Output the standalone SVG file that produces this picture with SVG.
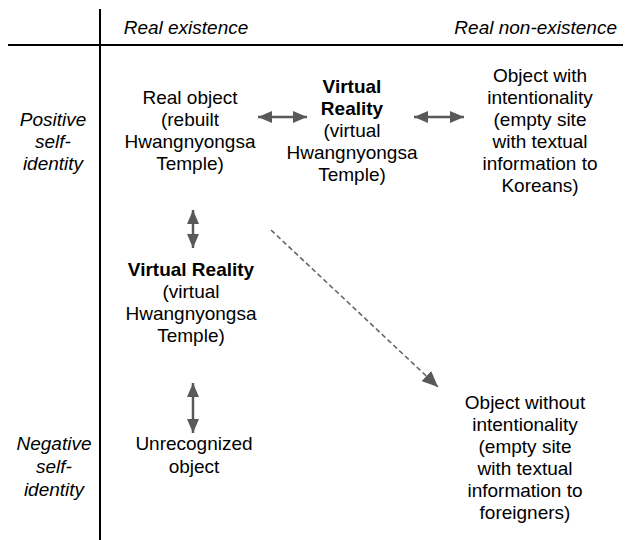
<svg xmlns="http://www.w3.org/2000/svg" width="630" height="540" viewBox="0 0 630 540">
<defs>
<style>
text{font-family:"Liberation Sans",Arial,sans-serif;font-size:19px;fill:#000;text-anchor:middle}
.i{font-style:italic}
.b{font-weight:bold}
.ax{stroke:#000;stroke-width:2;fill:none}
.ar{stroke:#595959;stroke-width:2.5;fill:none;marker-start:url(#hs);marker-end:url(#he)}
.da{stroke:#666;stroke-width:1.6;fill:none;stroke-dasharray:5 3;marker-end:url(#hd)}
</style>
<marker id="he" viewBox="0 0 14 12" refX="14" refY="6" markerWidth="14" markerHeight="12" markerUnits="userSpaceOnUse" orient="auto"><path d="M0,0L14,6L0,12z" fill="#595959"/></marker>
<marker id="hs" viewBox="0 0 14 12" refX="0" refY="6" markerWidth="14" markerHeight="12" markerUnits="userSpaceOnUse" orient="auto"><path d="M14,0L0,6L14,12z" fill="#595959"/></marker>
<marker id="hd" viewBox="0 0 16 14" refX="16" refY="7" markerWidth="16" markerHeight="14" markerUnits="userSpaceOnUse" orient="auto"><path d="M0,0L16,7L0,14z" fill="#595959"/></marker>
</defs>
<rect width="630" height="540" fill="#fff"/>
<g id="axes">
<line class="ax" x1="100" y1="9" x2="100" y2="540"/>
<line class="ax" x1="8" y1="45" x2="623" y2="45"/>
</g>
<g id="h1"><text class="i" x="186" y="34">Real existence</text></g>
<g id="h2"><text class="i" x="617" y="34" style="text-anchor:end">Real non-existence</text></g>
<g id="pos"><text class="i" x="53" y="126">Positive</text><text class="i" x="53" y="148">self-</text><text class="i" x="53" y="170">identity</text></g>
<g id="neg"><text class="i" x="54" y="450">Negative</text><text class="i" x="54" y="473">self-</text><text class="i" x="54" y="496">identity</text></g>
<g id="n1"><text x="190" y="104">Real object</text><text x="190" y="126">(rebuilt</text><text x="190" y="148">Hwangnyongsa</text><text x="190" y="170">Temple)</text></g>
<g id="n2"><text class="b" x="352" y="93">Virtual</text><text class="b" x="352" y="115">Reality</text><text x="352" y="137">(virtual</text><text x="352" y="159">Hwangnyongsa</text><text x="352" y="181">Temple)</text></g>
<g id="n3"><text x="540" y="82">Object with</text><text x="540" y="104">intentionality</text><text x="540" y="126">(empty site</text><text x="540" y="148">with textual</text><text x="540" y="170">information to</text><text x="540" y="192">Koreans)</text></g>
<g id="n4"><text class="b" x="191" y="276">Virtual Reality</text><text x="191" y="298">(virtual</text><text x="191" y="320">Hwangnyongsa</text><text x="191" y="342">Temple)</text></g>
<g id="n5"><text x="194" y="450">Unrecognized</text><text x="194" y="473">object</text></g>
<g id="n6"><text x="525" y="409">Object without</text><text x="525" y="431">intentionality</text><text x="525" y="453">(empty site</text><text x="525" y="475">with textual</text><text x="525" y="497">information to</text><text x="525" y="519">foreigners)</text></g>
<g id="connectors">
<line class="ar" x1="258" y1="117" x2="307" y2="117"/>
<line class="ar" x1="414" y1="117" x2="464" y2="117"/>
<line class="ar" x1="193" y1="210" x2="193" y2="248"/>
<line class="ar" x1="193" y1="383" x2="193" y2="433"/>
<line class="da" x1="271" y1="230" x2="438" y2="387"/>
</g>
</svg>
